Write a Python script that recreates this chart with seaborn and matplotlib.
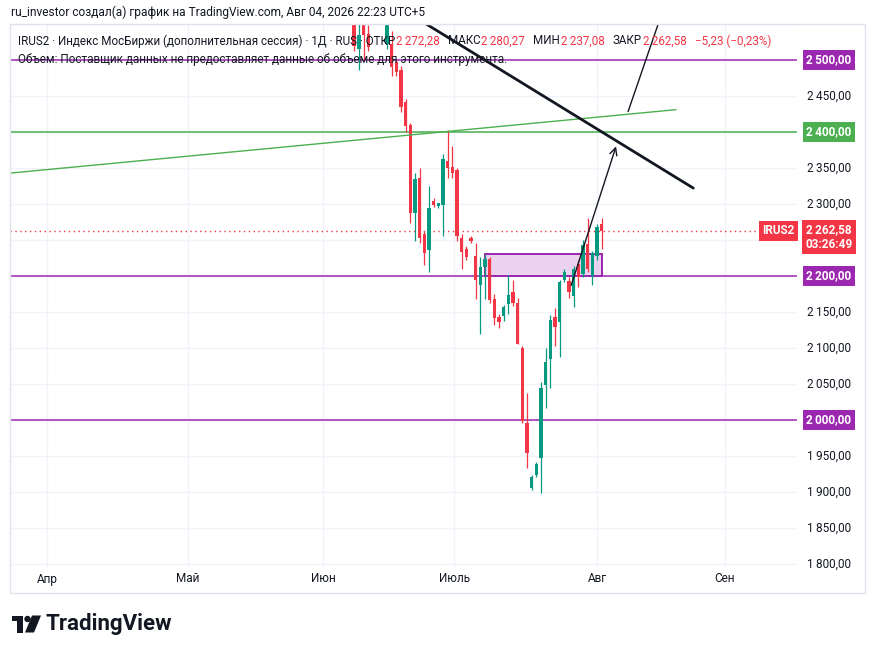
import matplotlib
matplotlib.use("Agg")
import matplotlib.pyplot as plt
import matplotlib.patches as mpatches
import matplotlib.transforms as mtransforms
import numpy as np
import pandas as pd
import seaborn as sns

# ---------------- data ----------------
# daily candles, oldest -> newest (bar index 0..53)
opens = [2555, 2515, 2560, 2536, 2575, 2595, 2568, 2522, 2522, 2497, 2486, 2442, 2409, 2288,
         2336, 2258, 2236, 2304, 2297, 2299, 2359, 2352, 2347, 2252, 2238, 2253, 2228, 2187,
         2212, 2223, 2168, 2143, 2144, 2161, 2177, 2163, 2100, 1996, 1906, 1923, 1947, 2049,
         2085, 2143, 2136, 2195, 2193, 2172, 2216, 2203, 2244, 2200, 2228, 2272.28]
highs = [2565, 2560, 2570, 2548, 2600, 2610, 2590, 2560, 2540, 2500, 2492, 2446, 2412, 2343,
         2350, 2262, 2325, 2308, 2302, 2370, 2403, 2380, 2350, 2258, 2242, 2256, 2246, 2226,
         2230, 2226, 2175, 2147, 2160, 2201, 2195, 2170, 2102, 2037, 1924, 1942, 2053, 2100,
         2146, 2155, 2195, 2209, 2198, 2214, 2222, 2250, 2280, 2234, 2272, 2280.27]
lows = [2512, 2486, 2500, 2512, 2552, 2560, 2552, 2515, 2478, 2478, 2428, 2400, 2274, 2249,
        2246, 2215, 2206, 2296, 2295, 2256, 2336, 2336, 2248, 2210, 2222, 2246, 2168, 2119,
        2168, 2162, 2132, 2127, 2138, 2147, 2158, 2105, 1995, 1933, 1903, 1920, 1899, 2016,
        2044, 2102, 2088, 2192, 2170, 2157, 2185, 2198, 2205, 2188, 2222, 2237.08]
closes = [2520, 2535, 2535, 2518, 2590, 2570, 2580, 2550, 2490, 2483, 2435, 2408, 2288, 2334,
          2252, 2232, 2294, 2299, 2301, 2362, 2350, 2343, 2255, 2233, 2226, 2249, 2194, 2212,
          2224, 2166, 2141, 2136, 2157, 2173, 2163, 2106, 1998, 1954, 1920, 1939, 2044, 2081,
          2139, 2129, 2192, 2205, 2177, 2210, 2198, 2243, 2210, 2232, 2267.81, 2262.58]

month_labels = ["Апр", "Май", "Июн", "Июль", "Авг", "Сен"]
month_positions = [-65.8, -35.6, -6.7, 21.4, 52.0, 79.3]   # in bar-index units

price_ticks = [2450, 2350, 2300, 2150, 2100, 2050, 1950, 1900, 1850, 1800]
level_prices = [2500, 2400, 2200, 2000]
level_kinds = ["purple", "green", "purple", "purple"]

green_trend_x = [-73.7, 68.9]
green_trend_y = [2342.8, 2431.0]
black_trend_x = [15.5, 72.6]
black_trend_y = [2549.6, 2322.0]
arrow_x = [46.45, 56.06]
arrow_y = [2186.9, 2380.0]
thin_x = [58.63, 65.5]
thin_y = [2428.3, 2557.9]
zone_x = [28.0, 53.06]
zone_y = [2200, 2230]

symbol = "IRUS2"
countdown = "03:26:49"
title_text = "ru_investor создал(а) график на TradingView.com, Авг 04, 2026 22:23 UTC+5"
legend_head = "IRUS2 · Индекс МосБиржи (дополнительная сессия) · 1Д · RUS · ОТКР"
volume_note = "Объем: Поставщик данных не предоставляет данные об объеме для этого инструмента."

# ---------------- style ----------------
sns.set_theme(style="white")
plt.rcParams["font.family"] = ["Roboto", "DejaVu Sans"]

UP = "#089981"
DOWN = "#f23645"
PURPLE = "#9c27b0"
GREEN = "#4caf50"
TXT = "#131722"
GRID = "#f0f3fa"
kind_color = {"purple": PURPLE, "green": GREEN}

W, H = 875, 654
fig = plt.figure(figsize=(W / 100, H / 100), dpi=100)
fig.patch.set_facecolor("white")


def fx(px):
    return px / W


def fy(py):
    return 1 - py / H


pane_l, pane_r, pane_t, pane_b = 10, 797, 24, 568
ax = fig.add_axes([fx(pane_l), fy(pane_b), (pane_r - pane_l) / W, (pane_b - pane_t) / H])
ax.set_facecolor("white")
ax.set_xlim(-73.7, 94.8)
ax.set_ylim(1794.2, 2544.4)

# grid
ax.set_yticks(np.arange(1800, 2551, 50))
ax.set_xticks(month_positions)
ax.tick_params(length=0, labelleft=False, labelbottom=False)
ax.grid(True, color=GRID, lw=1)
for s in ax.spines.values():
    s.set_visible(False)

df = pd.DataFrame({"o": opens, "h": highs, "l": lows, "c": closes})
df["i"] = np.arange(len(df))
df["col"] = np.where(df["c"] >= df["o"], UP, DOWN)

# zone rectangle
ax.add_patch(mpatches.Rectangle((zone_x[0], zone_y[0]), zone_x[1] - zone_x[0], zone_y[1] - zone_y[0],
                                facecolor=PURPLE, alpha=0.2, edgecolor="none", zorder=2))
ax.add_patch(mpatches.Rectangle((zone_x[0], zone_y[0]), zone_x[1] - zone_x[0], zone_y[1] - zone_y[0],
                                facecolor="none", edgecolor=PURPLE, lw=1.4, zorder=2))

# horizontal levels
for p, k in zip(level_prices, level_kinds):
    ax.axhline(p, color=kind_color[k], lw=1.1, zorder=2)

# candles
ax.vlines(df["i"], df["l"], df["h"], colors=df["col"], lw=0.9, zorder=3)
body_h = np.maximum((df["c"] - df["o"]).abs(), 1.2)
ax.bar(df["i"], body_h, bottom=np.minimum(df["o"], df["c"]), width=0.74,
       color=df["col"], linewidth=0, zorder=3)

# last close dotted line
last_close = closes[-1]
ax.axhline(last_close, color=DOWN, lw=1, ls=(0, (1, 2.5)), zorder=2)

# trend lines
sns.lineplot(x=green_trend_x, y=green_trend_y, ax=ax, color=GREEN, lw=1.0, zorder=4)
sns.lineplot(x=black_trend_x, y=black_trend_y, ax=ax, color=TXT, lw=2.0, zorder=4)
sns.lineplot(x=thin_x, y=thin_y, ax=ax, color=TXT, lw=1.0, zorder=4)
ax.annotate("", xy=(arrow_x[1], arrow_y[1]), xytext=(arrow_x[0], arrow_y[0]),
            arrowprops=dict(arrowstyle="->", color=TXT, lw=1.0, mutation_scale=13,
                            shrinkA=0, shrinkB=0), zorder=4)


def fmt(v):
    s = f"{v:,.2f}"
    return s.replace(",", "\u2009").replace(".", ",")


# price axis labels
ytr = mtransforms.offset_copy(ax.get_yaxis_transform(), fig=fig, x=32, y=0, units="dots")
for v in price_ticks:
    ax.text(1, v, fmt(v), transform=ytr, ha="center", va="center", fontsize=8.5,
            color=TXT, clip_on=False)
for p, k in zip(level_prices, level_kinds):
    ax.text(1, p, fmt(p), transform=ytr, ha="center", va="center", fontsize=8.5,
            color="white", fontweight="bold", clip_on=False, zorder=6,
            bbox=dict(boxstyle="square,pad=0.32", fc=kind_color[k], ec="none"))

# symbol label + price/time box
str_ = mtransforms.offset_copy(ax.get_yaxis_transform(), fig=fig, x=-18.5, y=0, units="dots")
ax.text(1, last_close, symbol, transform=str_, ha="center", va="center", fontsize=8.5,
        color="white", fontweight="bold", clip_on=False, zorder=6,
        bbox=dict(boxstyle="square,pad=0.3", fc=DOWN, ec="none"))
ptr = mtransforms.offset_copy(ax.get_yaxis_transform(), fig=fig, x=32, y=7.5, units="dots")
ax.text(1, last_close, fmt(last_close) + "\n" + countdown, transform=ptr, ha="center", va="top",
        fontsize=8.5, color="white", fontweight="bold", clip_on=False, zorder=6,
        linespacing=1.15, bbox=dict(boxstyle="square,pad=0.3", fc=DOWN, ec="none"))

# date labels
xtr = mtransforms.offset_copy(ax.get_xaxis_transform(), fig=fig, x=0, y=-11, units="dots")
for pos, lab in zip(month_positions, month_labels):
    ax.text(pos, 0, lab, transform=xtr, ha="center", va="center", fontsize=8.5,
            color=TXT, clip_on=False)

# overlay axes in pixel coordinates
ov = fig.add_axes([0, 0, 1, 1], facecolor="none")
ov.set_xlim(0, W)
ov.set_ylim(H, 0)
ov.axis("off")
ov.add_patch(mpatches.Rectangle((10, 24), 855, 569, fc="none", ec="#e0e3eb", lw=1))
ov.text(11, 12, title_text, ha="left", va="center", fontsize=8.6, color=TXT)

# legend line 1 (chained texts)
prev_close = closes[-2]
chg = last_close - prev_close
chg_pct = chg / prev_close * 100
LF = 8.4
segments = [
    (legend_head, TXT, 0),
    (fmt(opens[-1]), DOWN, 0.5),
    ("МАКС", TXT, 6),
    (fmt(highs[-1]), DOWN, 0.5),
    ("МИН", TXT, 6),
    (fmt(lows[-1]), DOWN, 0.5),
    ("ЗАКР", TXT, 6),
    (fmt(last_close), DOWN, 0.5),
    (("\u2212" + fmt(abs(chg)) + " (\u2212" + f"{abs(chg_pct):.2f}".replace(".", ",") + "%)"), DOWN, 6),
]
t = ov.text(18, 41, segments[0][0], ha="left", va="center", fontsize=LF, color=segments[0][1], zorder=7)
for s, c, gap in segments[1:]:
    t = ov.annotate(s, xy=(1, 0.5), xycoords=t, xytext=(gap, 0), textcoords="offset points",
                    ha="left", va="center", fontsize=LF, color=c, zorder=7)
ov.text(18, 59, volume_note, ha="left", va="center", fontsize=8.5, color=TXT, zorder=7)

# TradingView logo
ov.add_patch(mpatches.Rectangle((12, 615.5), 11, 5.5, fc=TXT, ec="none"))
ov.add_patch(mpatches.Rectangle((17, 615.5), 6, 17, fc=TXT, ec="none"))
ov.add_patch(mpatches.Circle((27.5, 619), 3.2, fc=TXT, ec="none"))
ov.add_patch(mpatches.Polygon([(32, 615.5), (41, 615.5), (34, 632.5), (25, 632.5)], closed=True,
                              fc=TXT, ec="none"))
ov.text(46, 624, "TradingView", ha="left", va="center", fontsize=16, fontweight="bold", color=TXT)

fig.savefig("out.png", dpi=100, facecolor="white")
